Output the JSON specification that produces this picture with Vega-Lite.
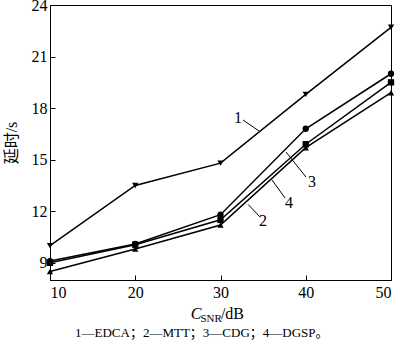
{
  "$schema": "https://vega.github.io/schema/vega-lite/v6.json",
  "width": 341,
  "height": 275,
  "autosize": {"type": "none"},
  "padding": {"left": 50, "top": 5, "right": 9, "bottom": 74},
  "background": "white",
  "config": {
    "view": {"stroke": "black", "strokeWidth": 1},
    "axis": {
      "grid": false,
      "domainColor": "black",
      "tickColor": "black",
      "tickSize": -5,
      "labelFont": "Liberation Serif",
      "labelFontSize": 16,
      "labelColor": "black",
      "titleFont": "Liberation Serif, Noto Sans CJK SC",
      "titleFontSize": 16,
      "titleFontWeight": "normal",
      "titleColor": "black"
    }
  },
  "datasets": {
    "series": [
      {"snr": 10, "delay": 10.0, "s": "1 EDCA"},
      {"snr": 20, "delay": 13.5, "s": "1 EDCA"},
      {"snr": 30, "delay": 14.8, "s": "1 EDCA"},
      {"snr": 40, "delay": 18.8, "s": "1 EDCA"},
      {"snr": 50, "delay": 22.7, "s": "1 EDCA"},
      {"snr": 10, "delay": 8.5, "s": "2 MTT"},
      {"snr": 20, "delay": 9.8, "s": "2 MTT"},
      {"snr": 30, "delay": 11.2, "s": "2 MTT"},
      {"snr": 40, "delay": 15.7, "s": "2 MTT"},
      {"snr": 50, "delay": 18.9, "s": "2 MTT"},
      {"snr": 10, "delay": 9.1, "s": "3 CDG"},
      {"snr": 20, "delay": 10.1, "s": "3 CDG"},
      {"snr": 30, "delay": 11.8, "s": "3 CDG"},
      {"snr": 40, "delay": 16.8, "s": "3 CDG"},
      {"snr": 50, "delay": 20.0, "s": "3 CDG"},
      {"snr": 10, "delay": 9.0, "s": "4 DGSP"},
      {"snr": 20, "delay": 10.05, "s": "4 DGSP"},
      {"snr": 30, "delay": 11.5, "s": "4 DGSP"},
      {"snr": 40, "delay": 15.9, "s": "4 DGSP"},
      {"snr": 50, "delay": 19.5, "s": "4 DGSP"}
    ],
    "leaders": [
      {"x1": 32.64, "y1": 17.31, "x2": 34.52, "y2": 16.67},
      {"x1": 33.23, "y1": 12.4, "x2": 34.63, "y2": 11.67},
      {"x1": 37.68, "y1": 15.45, "x2": 40.03, "y2": 13.99},
      {"x1": 36.04, "y1": 13.82, "x2": 37.57, "y2": 12.77}
    ],
    "labels": [
      {"x": 32.05, "y": 17.43, "t": "1"},
      {"x": 34.99, "y": 11.43, "t": "2"},
      {"x": 40.73, "y": 13.7, "t": "3"},
      {"x": 38.04, "y": 12.48, "t": "4"}
    ]
  },
  "layer": [
    {
      "data": {"name": "series"},
      "mark": {"type": "line", "color": "black", "strokeWidth": 1.5},
      "encoding": {
        "x": {"field": "snr", "type": "quantitative",
              "scale": {"domain": [10, 50], "nice": false},
              "axis": {"values": [10, 20, 30, 40, 50], "title": null, "labelPadding": 9}},
        "y": {"field": "delay", "type": "quantitative",
              "scale": {"domain": [8, 24], "nice": false, "zero": false},
              "axis": {"values": [9, 12, 15, 18, 21, 24], "title": "延时/s", "labelPadding": 8, "titlePadding": 12}},
        "detail": {"field": "s"}
      }
    },
    {
      "data": {"name": "series"},
      "mark": {"type": "point", "filled": true, "color": "black", "opacity": 1, "size": 40},
      "encoding": {
        "x": {"field": "snr", "type": "quantitative"},
        "y": {"field": "delay", "type": "quantitative"},
        "shape": {"field": "s", "type": "nominal", "legend": null,
                  "scale": {"domain": ["1 EDCA", "2 MTT", "3 CDG", "4 DGSP"],
                            "range": ["triangle-down", "triangle-up", "circle", "square"]}}
      }
    },
    {
      "data": {"name": "leaders"},
      "mark": {"type": "rule", "color": "black", "strokeWidth": 1},
      "encoding": {
        "x": {"field": "x1", "type": "quantitative"},
        "y": {"field": "y1", "type": "quantitative"},
        "x2": {"field": "x2"},
        "y2": {"field": "y2"}
      }
    },
    {
      "data": {"name": "labels"},
      "mark": {"type": "text", "font": "Liberation Serif", "fontSize": 16, "color": "black", "align": "center", "baseline": "middle"},
      "encoding": {
        "x": {"field": "x", "type": "quantitative"},
        "y": {"field": "y", "type": "quantitative"},
        "text": {"field": "t"}
      }
    },
    {
      "data": {"values": [{"t": "C"}]},
      "mark": {"type": "text", "font": "Liberation Serif", "fontSize": 16, "fontStyle": "italic", "color": "black", "align": "right", "baseline": "alphabetic", "dy": 39, "clip": false},
      "encoding": {"x": {"datum": 27.75}, "y": {"datum": 8}, "text": {"field": "t"}}
    },
    {
      "data": {"values": [{"t": "SNR"}]},
      "mark": {"type": "text", "font": "Liberation Serif", "fontSize": 11, "color": "black", "align": "left", "baseline": "alphabetic", "dy": 42, "clip": false},
      "encoding": {"x": {"datum": 27.65}, "y": {"datum": 8}, "text": {"field": "t"}}
    },
    {
      "data": {"values": [{"t": "/dB"}]},
      "mark": {"type": "text", "font": "Liberation Serif", "fontSize": 16, "color": "black", "align": "left", "baseline": "alphabetic", "dy": 39, "clip": false},
      "encoding": {"x": {"datum": 30.05}, "y": {"datum": 8}, "text": {"field": "t"}}
    },
    {
      "data": {"values": [{"t": "1—EDCA；2—MTT；3—CDG；4—DGSP。"}]},
      "mark": {"type": "text", "font": "Liberation Serif, Noto Sans CJK SC", "fontSize": 13, "color": "black", "align": "center", "baseline": "middle", "dy": 53, "clip": false},
      "encoding": {"x": {"datum": 27.8}, "y": {"datum": 8}, "text": {"field": "t"}}
    }
  ]
}
